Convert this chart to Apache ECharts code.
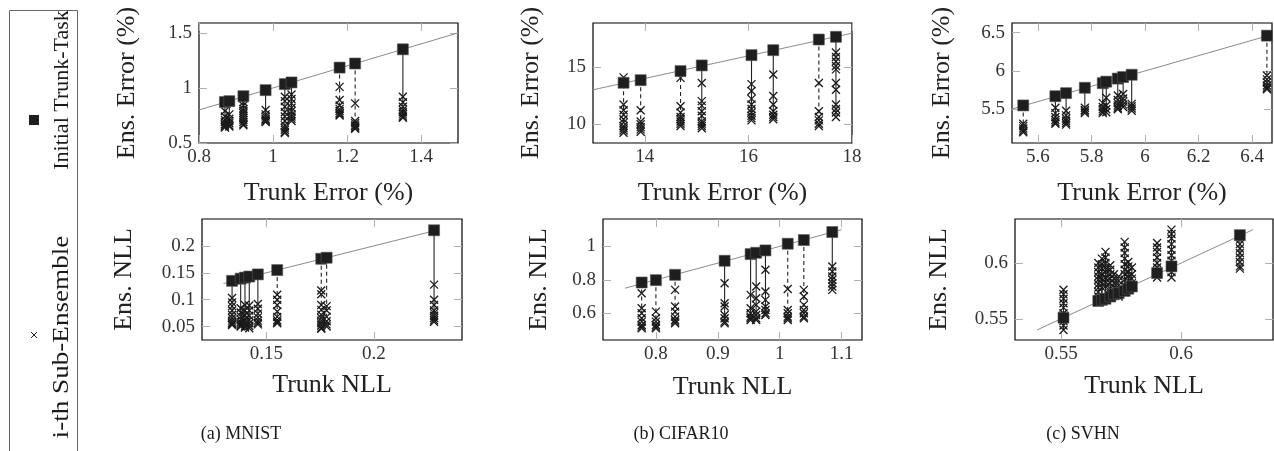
<!DOCTYPE html>
<html><head><meta charset="utf-8">
<script src="https://cdn.jsdelivr.net/npm/echarts@6/dist/echarts.min.js"></script>
<style>html,body{margin:0;padding:0;background:#fff}#c{width:1274px;height:451px}</style>
</head><body><div id="c"></div>
<script>
// ---------------- DATA ----------------
// (a) MNIST – error
const mnistErrTrunkX = [0.870, 0.882, 0.920, 0.980, 1.032, 1.050, 1.180, 1.222, 1.351];
const mnistErrTrunkY = [0.872, 0.880, 0.925, 0.980, 1.035, 1.050, 1.185, 1.222, 1.351];
const mnistErrSub = [
  [0.79, 0.74, 0.71, 0.69, 0.67, 0.66, 0.65, 0.64],
  [0.76, 0.72, 0.70, 0.68, 0.66, 0.65],
  [0.87, 0.84, 0.81, 0.79, 0.77, 0.75, 0.73, 0.71, 0.69, 0.67, 0.66],
  [0.80, 0.76, 0.74, 0.72, 0.71, 0.70, 0.69],
  [0.92, 0.88, 0.83, 0.78, 0.74, 0.70, 0.66, 0.64, 0.62, 0.60, 0.59],
  [0.94, 0.90, 0.86, 0.82, 0.79, 0.76, 0.74, 0.72, 0.70],
  [1.01, 0.89, 0.84, 0.81, 0.79, 0.77, 0.76, 0.75],
  [0.86, 0.70, 0.68, 0.66, 0.65, 0.64, 0.63],
  [0.92, 0.87, 0.83, 0.80, 0.78, 0.76, 0.74, 0.73]
];
const mnistErrDiag = [0.8, 1.5];
const mnistErrXTicks = [0.8, 1, 1.2, 1.4];
const mnistErrYTicks = [0.5, 1, 1.5];

// (a) MNIST – NLL
const mnistNllTrunkX = [0.134, 0.138, 0.140, 0.142, 0.146, 0.155, 0.1755, 0.178, 0.228];
const mnistNllTrunkY = [0.135, 0.139, 0.141, 0.143, 0.147, 0.155, 0.176, 0.178, 0.229];
const mnistNllSub = [
  [0.103, 0.095, 0.088, 0.080, 0.072, 0.066, 0.061, 0.057, 0.055, 0.053],
  [0.084, 0.076, 0.069, 0.063, 0.058, 0.055, 0.052, 0.050],
  [0.090, 0.080, 0.071, 0.064, 0.058, 0.054, 0.050, 0.048],
  [0.089, 0.080, 0.070, 0.062, 0.056, 0.051, 0.047],
  [0.092, 0.083, 0.074, 0.067, 0.061, 0.057, 0.054],
  [0.109, 0.100, 0.090, 0.078, 0.068, 0.062, 0.059, 0.056],
  [0.117, 0.110, 0.090, 0.081, 0.072, 0.066, 0.061, 0.056, 0.052, 0.048, 0.046],
  [0.088, 0.080, 0.068, 0.060, 0.054, 0.050],
  [0.128, 0.100, 0.090, 0.080, 0.075, 0.070, 0.066, 0.062, 0.059]
];
const mnistNllDiag = [0.13, 0.23];
const mnistNllXTicks = [0.15, 0.2];
const mnistNllYTicks = [0.05, 0.1, 0.15, 0.2];

// (b) CIFAR10 – error
const cifarErrTrunkX = [13.59, 13.92, 14.69, 15.10, 16.06, 16.48, 17.36, 17.69];
const cifarErrTrunkY = [13.62, 13.85, 14.65, 15.15, 16.06, 16.50, 17.44, 17.68];
const cifarErrSub = [
  [14.10, 11.7, 11.2, 10.8, 10.4, 10.1, 9.8, 9.6, 9.4, 9.2],
  [11.2, 10.2, 9.95, 9.7, 9.5, 9.3],
  [14.05, 11.55, 11.0, 10.6, 10.4, 10.2, 10.0, 9.8],
  [13.6, 12.0, 11.6, 11.1, 10.7, 10.2, 10.0, 9.8, 9.6],
  [13.5, 12.9, 12.2, 11.7, 11.3, 11.0, 10.7, 10.5, 10.3],
  [14.35, 12.45, 11.7, 11.1, 10.8, 10.6, 10.4],
  [13.6, 11.1, 10.6, 10.3, 10.0, 9.8],
  [16.3, 15.9, 15.5, 15.1, 14.8, 13.6, 13.0, 11.7, 11.3, 11.0, 10.6]
];
const cifarErrDiag = [13, 18];
const cifarErrXTicks = [14, 16, 18];
const cifarErrYTicks = [10, 15];

// (b) CIFAR10 – NLL
const cifarNllTrunkX = [0.777, 0.800, 0.831, 0.911, 0.953, 0.962, 0.977, 1.013, 1.039, 1.085];
const cifarNllTrunkY = [0.784, 0.798, 0.830, 0.914, 0.954, 0.962, 0.976, 1.016, 1.038, 1.086];
const cifarNllSub = [
  [0.72, 0.63, 0.60, 0.57, 0.55, 0.53, 0.52, 0.51],
  [0.61, 0.57, 0.55, 0.53, 0.52, 0.51],
  [0.74, 0.64, 0.61, 0.58, 0.56, 0.55, 0.54],
  [0.78, 0.66, 0.64, 0.59, 0.57, 0.55, 0.54],
  [0.71, 0.63, 0.60, 0.58, 0.57, 0.56],
  [0.76, 0.69, 0.65, 0.61, 0.59, 0.57, 0.56],
  [0.86, 0.73, 0.68, 0.64, 0.62, 0.60, 0.59],
  [0.745, 0.62, 0.60, 0.58, 0.57, 0.56],
  [0.74, 0.70, 0.65, 0.62, 0.60, 0.58, 0.57],
  [0.88, 0.85, 0.82, 0.80, 0.78, 0.76, 0.74]
];
const cifarNllDiag = [0.75, 1.1];
const cifarNllXTicks = [0.8, 0.9, 1, 1.1];
const cifarNllYTicks = [0.6, 0.8, 1];

// (c) SVHN – error
const svhnErrTrunkX = [5.545, 5.665, 5.705, 5.775, 5.842, 5.855, 5.898, 5.918, 5.950, 6.455];
const svhnErrTrunkY = [5.550, 5.670, 5.710, 5.780, 5.840, 5.860, 5.900, 5.920, 5.950, 6.460];
const svhnErrSub = [
  [5.31, 5.28, 5.25, 5.22, 5.20],
  [5.52, 5.45, 5.40, 5.36, 5.33, 5.31],
  [5.48, 5.42, 5.38, 5.35, 5.32, 5.30],
  [5.52, 5.49, 5.47, 5.45],
  [5.58, 5.53, 5.50, 5.47, 5.45],
  [5.65, 5.55, 5.50, 5.46],
  [5.68, 5.62, 5.58, 5.55, 5.52, 5.50],
  [5.70, 5.64, 5.60, 5.56, 5.53],
  [5.57, 5.54, 5.51, 5.48],
  [5.94, 5.89, 5.85, 5.81, 5.78, 5.76]
];
const svhnErrDiag = [5.5, 6.5];
const svhnErrXTicks = [5.6, 5.8, 6, 6.2, 6.4];
const svhnErrYTicks = [5.5, 6, 6.5];

// (c) SVHN – NLL
const svhnNllTrunkX = [0.551, 0.5655, 0.567, 0.5685, 0.5705, 0.572, 0.574, 0.5765, 0.578, 0.5795, 0.590, 0.596, 0.6245];
const svhnNllTrunkY = [0.551, 0.566, 0.567, 0.568, 0.570, 0.572, 0.573, 0.575, 0.577, 0.579, 0.591, 0.597, 0.625];
const svhnNllSub = [
  [0.576, 0.572, 0.568, 0.564, 0.560, 0.555, 0.548, 0.544, 0.540],
  [0.600, 0.596, 0.592, 0.588, 0.585, 0.581, 0.578, 0.574, 0.570],
  [0.604, 0.599, 0.595, 0.590, 0.586, 0.582, 0.578],
  [0.610, 0.605, 0.600, 0.596, 0.592, 0.587, 0.583, 0.579],
  [0.598, 0.594, 0.590, 0.586, 0.582, 0.577, 0.573],
  [0.590, 0.586, 0.582, 0.578, 0.574],
  [0.588, 0.584, 0.580, 0.576, 0.572, 0.570],
  [0.619, 0.614, 0.609, 0.604, 0.599, 0.594, 0.590, 0.585, 0.580],
  [0.601, 0.597, 0.592, 0.588, 0.584, 0.580],
  [0.596, 0.590, 0.586, 0.582],
  [0.618, 0.614, 0.610, 0.605, 0.600, 0.596, 0.592, 0.587],
  [0.630, 0.626, 0.622, 0.617, 0.612, 0.607, 0.602, 0.597, 0.592, 0.587],
  [0.625, 0.621, 0.617, 0.613, 0.609, 0.605, 0.601, 0.597, 0.595]
];
const svhnNllDiag = [0.54, 0.63];
const svhnNllXTicks = [0.55, 0.6];
const svhnNllYTicks = [0.55, 0.6];

const captions = ['(a) MNIST', '(b) CIFAR10', '(c) SVHN'];
const legendNames = ['Initial Trunk-Task', 'i-th Sub-Ensemble'];

// ---------------- LAYOUT / STYLE ----------------
const panels = [
  {tx: mnistErrTrunkX, ty: mnistErrTrunkY, sub: mnistErrSub, diag: mnistErrDiag, xt: mnistErrXTicks, yt: mnistErrYTicks,
   xName: 'Trunk Error (%)', yName: 'Ens. Error (%)',
   g: {left: 199, top: 23, width: 259, height: 120}, xMin: 0.8, xMax: 1.5, yMin: 0.5, yMax: 1.59, xGap: 37, yGap: 59, dashed: [6, 7]},
  {tx: mnistNllTrunkX, ty: mnistNllTrunkY, sub: mnistNllSub, diag: mnistNllDiag, xt: mnistNllXTicks, yt: mnistNllYTicks,
   xName: 'Trunk NLL', yName: 'Ens. NLL',
   g: {left: 202, top: 219, width: 260, height: 121}, xMin: 0.12, xMax: 0.241, yMin: 0.025, yMax: 0.25, xGap: 32, yGap: 65, dashed: [5, 6, 7]},
  {tx: cifarErrTrunkX, ty: cifarErrTrunkY, sub: cifarErrSub, diag: cifarErrDiag, xt: cifarErrXTicks, yt: cifarErrYTicks,
   xName: 'Trunk Error (%)', yName: 'Ens. Error (%)',
   g: {left: 593, top: 23, width: 259, height: 120}, xMin: 13, xMax: 18, yMin: 8.3, yMax: 18.9, xGap: 37, yGap: 49, dashed: [0, 1, 2, 6]},
  {tx: cifarNllTrunkX, ty: cifarNllTrunkY, sub: cifarNllSub, diag: cifarNllDiag, xt: cifarNllXTicks, yt: cifarNllYTicks,
   xName: 'Trunk NLL', yName: 'Ens. NLL',
   g: {left: 603, top: 219, width: 259, height: 121}, xMin: 0.7145, xMax: 1.133, yMin: 0.44, yMax: 1.164, xGap: 34, yGap: 51, dashed: [0, 1, 2, 7, 8]},
  {tx: svhnErrTrunkX, ty: svhnErrTrunkY, sub: svhnErrSub, diag: svhnErrDiag, xt: svhnErrXTicks, yt: svhnErrYTicks,
   xName: 'Trunk Error (%)', yName: 'Ens. Error (%)',
   g: {left: 1012, top: 23, width: 260, height: 120}, xMin: 5.503, xMax: 6.474, yMin: 5.06, yMax: 6.625, xGap: 37, yGap: 57, dashed: [0, 9]},
  {tx: svhnNllTrunkX, ty: svhnNllTrunkY, sub: svhnNllSub, diag: svhnNllDiag, xt: svhnNllXTicks, yt: svhnNllYTicks,
   xName: 'Trunk NLL', yName: 'Ens. NLL',
   g: {left: 1015, top: 219, width: 258, height: 121}, xMin: 0.5308, xMax: 0.6383, yMin: 0.531, yMax: 0.6395, xGap: 33, yGap: 63, dashed: []}
];

const SERIF = '"Liberation Serif", "Times New Roman", serif';
const crossPath = 'path://M0,0L10,10M10,0L0,10';
const grid = [], xAxis = [], yAxis = [], series = [];

panels.forEach((p, i) => {
  grid.push(Object.assign({show: true, borderColor: '#000', borderWidth: 1.2, backgroundColor: 'transparent', containLabel: false}, p.g));
  const tickStyle = {show: true, inside: true, length: 8, lineStyle: {color: '#b0b0b0', width: 1}};
  const baseX = {type: 'value', gridIndex: i, min: p.xMin, max: p.xMax, axisLine: {show: false}, splitLine: {show: false}};
  const baseY = {type: 'value', gridIndex: i, min: p.yMin, max: p.yMax, axisLine: {show: false}, splitLine: {show: false}};
  xAxis.push(Object.assign({}, baseX, {
    position: 'bottom',
    axisTick: Object.assign({customValues: p.xt}, tickStyle),
    axisLabel: {customValues: p.xt, margin: 5, fontFamily: SERIF, fontSize: 19, color: '#333'},
    name: p.xName, nameLocation: 'middle', nameGap: p.xGap,
    nameTextStyle: {fontFamily: SERIF, fontSize: 26, color: '#222'}
  }));
  xAxis.push(Object.assign({}, baseX, {
    position: 'top',
    axisTick: Object.assign({customValues: p.xt}, tickStyle),
    axisLabel: {show: false}
  }));
  yAxis.push(Object.assign({}, baseY, {
    position: 'left',
    axisTick: Object.assign({customValues: p.yt}, tickStyle),
    axisLabel: {customValues: p.yt, margin: 7, fontFamily: SERIF, fontSize: 19, color: '#333'},
    name: p.yName, nameLocation: 'middle', nameGap: p.yGap,
    nameTextStyle: {fontFamily: SERIF, fontSize: 26, color: '#222'}
  }));
  yAxis.push(Object.assign({}, baseY, {
    position: 'right',
    axisTick: Object.assign({customValues: p.yt}, tickStyle),
    axisLabel: {show: false}
  }));
  const xi = 2 * i, yi = 2 * i;
  series.push({type: 'line', xAxisIndex: xi, yAxisIndex: yi, data: [[p.diag[0], p.diag[0]], [p.diag[1], p.diag[1]]],
    symbol: 'none', lineStyle: {color: '#8c8c8c', width: 1}, silent: true, z: 1, animation: false});
  p.tx.forEach((x, j) => {
    const vals = p.sub[j].concat([p.ty[j]]);
    const hi = Math.max.apply(null, vals), lo = Math.min.apply(null, vals);
    const dashed = p.dashed.indexOf(j) >= 0;
    series.push({type: 'line', xAxisIndex: xi, yAxisIndex: yi, data: [[x, hi], [x, lo]], symbol: 'none',
      lineStyle: {color: '#222', width: 1.1, type: dashed ? [4, 3] : 'solid'}, silent: true, z: 2, animation: false});
  });
  const subPts = [];
  p.tx.forEach((x, j) => p.sub[j].forEach(v => subPts.push([x, v])));
  series.push({type: 'scatter', xAxisIndex: xi, yAxisIndex: yi, data: subPts, symbol: crossPath, symbolSize: 8,
    itemStyle: {color: 'rgba(0,0,0,0)', borderColor: '#1a1a1a', borderWidth: 1.3, opacity: 1}, z: 3, animation: false});
  series.push({type: 'scatter', xAxisIndex: xi, yAxisIndex: yi, data: p.tx.map((x, j) => [x, p.ty[j]]), symbol: 'rect', symbolSize: 11,
    itemStyle: {color: '#1e1e1e', borderColor: '#555', borderWidth: 0.6, opacity: 1}, z: 4, animation: false});
});

function txt(text, x, y, size, rot, stretch) {
  return {type: 'text', x: x, y: y, rotation: rot || 0, scaleX: stretch || 1,
    style: {text: text, font: size + 'px ' + SERIF, fill: '#1a1a1a', align: 'center', verticalAlign: 'middle', textAlign: 'center', textVerticalAlign: 'middle'}};
}
const graphic = [
  {type: 'rect', shape: {x: 9.5, y: 10.5, width: 68, height: 460}, style: {fill: 'none', stroke: '#666', lineWidth: 1}},
  txt(legendNames[0], 62, 90, 22, Math.PI / 2),
  txt(legendNames[1], 62, 337, 23, Math.PI / 2, 1.18),
  {type: 'rect', shape: {x: 29, y: 115, width: 10, height: 10}, style: {fill: '#1e1e1e'}},
  {type: 'line', shape: {x1: 31, y1: 332, x2: 37, y2: 338}, style: {stroke: '#222', lineWidth: 1}},
  {type: 'line', shape: {x1: 37, y1: 332, x2: 31, y2: 338}, style: {stroke: '#222', lineWidth: 1}},
  txt(captions[0], 241, 434, 18),
  txt(captions[1], 681, 434, 18),
  txt(captions[2], 1083, 434, 18)
];

const chart = echarts.init(document.getElementById('c'), null, {renderer: 'canvas'});
chart.setOption({animation: false, backgroundColor: '#fff', grid, xAxis, yAxis, series, graphic});
</script></body></html>
